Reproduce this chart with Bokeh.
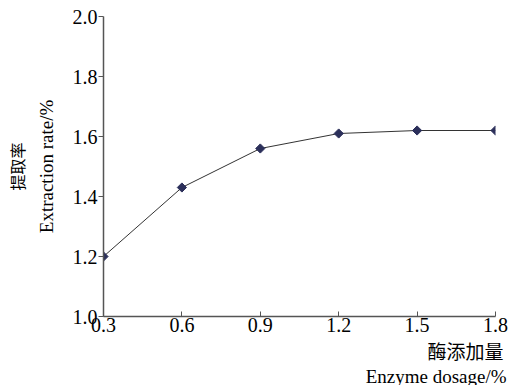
import math
from bokeh.plotting import figure
from bokeh.models import Title, FixedTicker, Range1d, LinearAxis
from bokeh.embed import file_html
from bokeh.resources import INLINE

dosage = [0.3, 0.6, 0.9, 1.2, 1.5, 1.8]
rate = [1.20, 1.43, 1.56, 1.61, 1.62, 1.62]
x_ticks = [0.3, 0.6, 0.9, 1.2, 1.5, 1.8]
y_ticks = [1.0, 1.2, 1.4, 1.6, 1.8, 2.0]
y_title_cn = "提取率"
y_title_en = "Extraction rate/%"
x_title_cn = "酶添加量"
x_title_en = "Enzyme dosage/%"

SERIF = "Liberation Serif"
CJK = "Noto Sans CJK SC"

p = figure(width=509, height=385, output_backend="svg", toolbar_location=None,
           x_range=Range1d(0.3, 1.8), y_range=Range1d(1.0, 2.0),
           min_border_left=103, min_border_right=14, min_border_top=16, min_border_bottom=68)
p.frame_width = 392
p.frame_height = 300
p.outline_line_color = None
p.grid.grid_line_color = None
p.background_fill_color = "white"
p.border_fill_color = "white"

p.xaxis.ticker = FixedTicker(ticks=x_ticks)
p.yaxis.ticker = FixedTicker(ticks=y_ticks)
p.xaxis.major_label_overrides = {t: f"{t:.1f}" for t in x_ticks}
p.yaxis.major_label_overrides = {t: f"{t:.1f}" for t in y_ticks}
for ax in (p.xaxis, p.yaxis):
    ax.axis_line_color = "#555555"
    ax.axis_line_width = 1.5
    ax.major_tick_line_color = "#555555"
    ax.major_tick_line_width = 1
    ax.minor_tick_line_color = None
    ax.major_label_text_font = SERIF
    ax.major_label_text_font_size = "20px"
    ax.major_label_text_color = "black"
p.xaxis.major_tick_in = 5
p.xaxis.major_tick_out = 0
p.xaxis.major_label_standoff = 1
p.yaxis.major_tick_in = 0
p.yaxis.major_tick_out = 5
p.yaxis.major_label_standoff = 1

# English y title as the axis label of the main y axis
p.yaxis.axis_label = y_title_en
p.yaxis.axis_label_standoff = 13
p.yaxis.axis_label_text_font = SERIF
p.yaxis.axis_label_text_font_size = "19px"
p.yaxis.axis_label_text_font_style = "normal"
p.yaxis.axis_label_text_color = "black"

# Chinese y title on an extra, bare axis further left
cn_axis = LinearAxis(ticker=FixedTicker(ticks=[]), axis_line_color=None,
                     major_tick_in=0, major_tick_out=0, minor_tick_line_color=None,
                     major_label_text_font_size="0px",
                     axis_label=y_title_cn, axis_label_standoff=4,
                     axis_label_text_font=CJK, axis_label_text_font_size="16px",
                     axis_label_text_font_style="normal", axis_label_text_color="black")
p.add_layout(cn_axis, "left")

p.line(dosage, rate, line_color="#333333", line_width=1)
p.scatter(dosage, rate, marker="square", angle=math.pi / 4, size=6.5,
          fill_color="#2b2f5a", line_color="#2b2f5a")

p.add_layout(Title(text=x_title_cn, align="right", offset=-8, standoff=0,
                   text_font=CJK, text_font_size="19px", text_font_style="normal",
                   text_color="black"), "below")
p.add_layout(Title(text=x_title_en, align="right", offset=-11, standoff=0,
                   text_font=SERIF, text_font_size="19px", text_font_style="normal",
                   text_color="black"), "below")

open("out.html", "w").write(file_html(p, INLINE))
